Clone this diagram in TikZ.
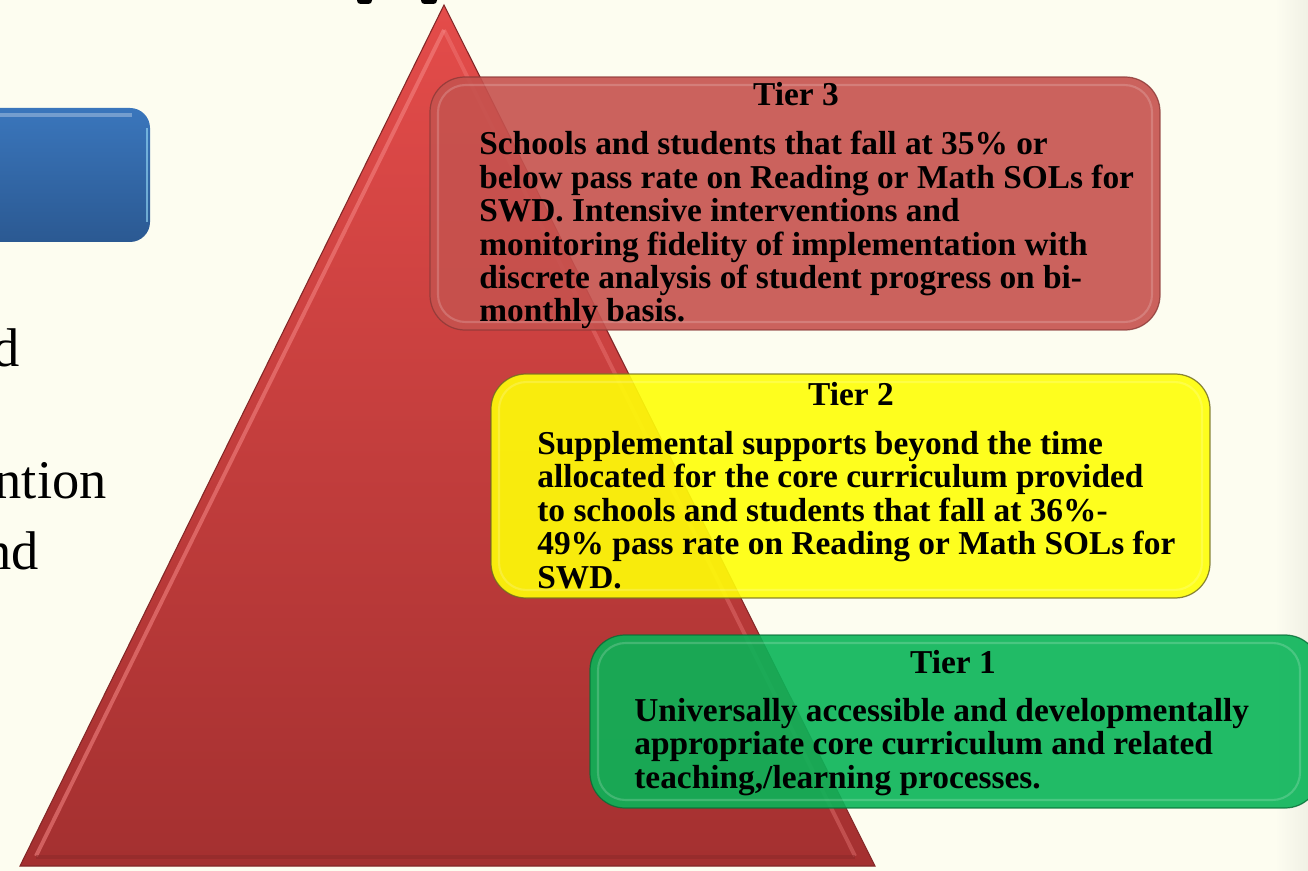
\documentclass[tikz,border=0pt]{standalone}
\usepackage{fontspec}
\setmainfont{Liberation Serif}
\usetikzlibrary{calc, positioning}

\definecolor{paper}{RGB}{253,253,240}
\definecolor{pyrtop}{RGB}{228,76,74}
\definecolor{pyrbot}{RGB}{164,48,48}
\definecolor{pyredge}{RGB}{246,136,134}
\definecolor{bluetop}{RGB}{58,118,188}
\definecolor{bluebot}{RGB}{43,89,146}
\definecolor{tierred}{RGB}{198,82,78}
\definecolor{tieryellow}{RGB}{255,255,8}
\definecolor{tiergreen}{RGB}{10,180,88}

\newcommand\tierfont{\fontsize{19}{19}\selectfont\bfseries}
\newcommand\sidefont{\fontsize{31}{36}\selectfont}

\tikzset{
        tier/.style = {rounded corners=0.7cm, line width=0.7pt,
            fill opacity=0.9, draw opacity=0.8},
        inset/.style = {rounded corners=0.55cm, line width=1.2pt,
            draw opacity=0.18, white},
        heading/.style = {font=\tierfont, inner sep=0pt, anchor=base},
        blurb/.style = {font=\tierfont, align=left, inner sep=0pt,
            anchor=north west},
        sidetext/.style = {font=\sidefont, inner sep=0pt, anchor=base east},
        bevel/.style = {line width=2.2pt, pyredge, opacity=0.55},
}

\begin{document}
\begin{tikzpicture}[x=0.02cm, y=-0.02cm]
\useasboundingbox (0,0) rectangle (1308,871);
\clip (0,0) rectangle (1308,871);
\fill[paper] (0,0) rectangle (1308,871);
\shade[left color=paper, right color=paper!90!gray] (1275,0) rectangle (1308,871);

% title descenders cut by the top edge
\fill[black, rounded corners=2pt] (357,-6) rectangle (372,4);
\fill[black, rounded corners=2pt] (421,-6) rectangle (437,4);

% blue button on the left
\shade[top color=bluetop, bottom color=bluebot, rounded corners=0.4cm]
    (-40,108) rectangle (150,242);
\draw[white, opacity=0.3, line width=2pt] (-40,115) -- (132,115);
\draw[cyan!40, opacity=0.6, line width=1.2pt] (147,128) -- (147,222);

% bullet text running off the left edge
\node[sidetext] (wd) at (20,367) {d};
\node[sidetext] (wntion) at (107,498) {ntion};
\node[sidetext] (wnd) at (39,569) {nd};

% pyramid
\coordinate (apex) at (444,5);
\coordinate (bl) at (20,866);
\coordinate (br) at (875,866);
\shade[top color=pyrtop, bottom color=pyrbot] (apex) -- (br) -- (bl) -- cycle;
\draw[pyrbot!80!black, line width=0.6pt] (apex) -- (br) -- (bl) -- cycle;
\draw[bevel] (444,30) -- (36,856);
\draw[bevel, opacity=0.35] (444,30) -- (855,856);
\draw[pyrbot!85!black, line width=2pt, opacity=0.5] (36,857) -- (855,857);

% tier boxes
\draw[tier, fill=tierred, draw=tierred!70!black] (430,77) rectangle (1160,330);
\draw[inset] (438,85) rectangle (1152,322);
\draw[tier, fill=tieryellow, draw=olive!70!black] (491,374) rectangle (1210,598);
\draw[inset] (499,382) rectangle (1202,590);
\draw[tier, fill=tiergreen, draw=tiergreen!60!black] (590,635) rectangle (1320,808);
\draw[inset] (598,643) rectangle (1300,800);

\node[heading] (h3) at (796,106) {Tier 3};
\node[blurb] (b3) at (479,131) {Schools and students that fall at 35\% or\\
    below pass rate on Reading or Math SOLs for\\
    SWD. Intensive interventions and\\
    monitoring fidelity of implementation with\\
    discrete analysis of student progress on bi-\\
    monthly basis.};

\node[heading] (h2) at (851,405) {Tier 2};
\node[blurb] (b2) at (537,431) {Supplemental supports beyond the time\\
    allocated for the core curriculum provided\\
    to schools and students that fall at 36\%-\\
    49\% pass rate on Reading or Math SOLs for\\
    SWD.};

\node[heading] (h1) at (953,673) {Tier 1};
\node[blurb] (b1) at (634,698) {Universally accessible and developmentally\\
    appropriate core curriculum and related\\
    teaching,/learning processes.};
\end{tikzpicture}
\end{document}
